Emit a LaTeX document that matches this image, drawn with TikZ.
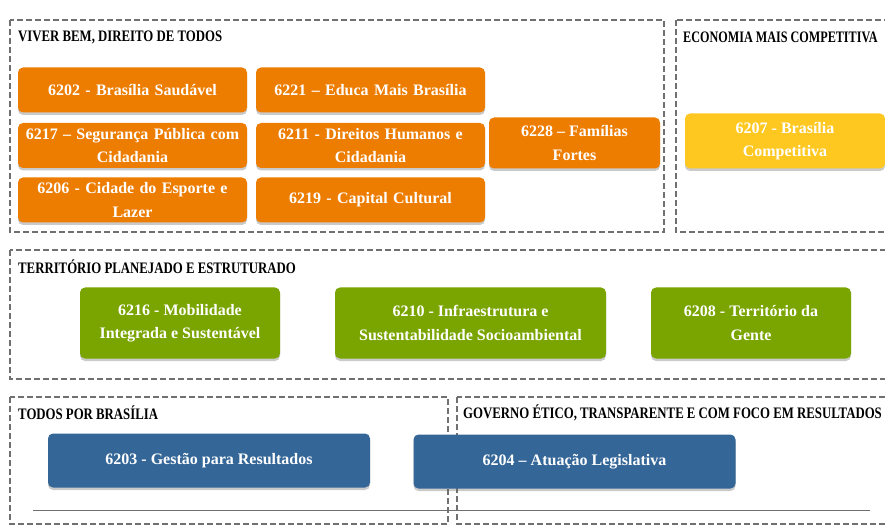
\documentclass[tikz,border=0pt]{standalone}
\usepackage{fontspec}
\setmainfont{Liberation Serif}
\newfontfamily\headfont[FakeStretch=0.8]{Liberation Serif}
\newfontfamily\narrowhead[FakeStretch=0.76]{Liberation Serif}
\usetikzlibrary{shadows}

\definecolor{progorange}{RGB}{237,125,0}
\definecolor{progyellow}{RGB}{255,200,32}
\definecolor{proggreen}{RGB}{122,165,0}
\definecolor{progblue}{RGB}{52,102,152}
\definecolor{framegray}{RGB}{112,112,112}

\tikzset{
  frame/.style={draw=framegray, line width=1.8pt, dash pattern=on 6pt off 3pt},
  head/.style={anchor=west, inner sep=0pt, font=\headfont\bfseries\fontsize{16}{18}\selectfont},
  prog/.style={rectangle, rounded corners=5pt, text=white, align=center, inner sep=0pt,
    font=\bfseries\fontsize{16}{23.5}\selectfont,
    drop shadow={shadow xshift=0pt, shadow yshift=-2.5pt, opacity=0.35, fill=black!60}},
  orangebox/.style={prog, fill=progorange, minimum width=229pt, minimum height=45pt, text width=222pt},
  greenbox/.style={prog, fill=proggreen, minimum height=71pt},
  bluebox/.style={prog, fill=progblue, minimum width=322pt, minimum height=54pt}
}

\begin{document}
\begin{tikzpicture}[x=1pt,y=-1pt]
\useasboundingbox (0,0) rectangle (885,526);

%frames
\draw[frame] (10,20) rectangle (664,232);
\draw[frame] (676,20) rectangle (895,232);
\draw[frame] (10,250) rectangle (895,379);
\draw[frame] (10,397) rectangle (448,524);
\draw[frame] (457,397) rectangle (895,524);
\draw[framegray, line width=0.8pt] (33,510) -- (870,510);

%frame titles
\node[head] (tviver) at (18,37) {VIVER BEM, DIREITO DE TODOS};
\node[head, font=\narrowhead\bfseries\fontsize{16}{18}\selectfont] (teco) at (683,37) {ECONOMIA MAIS COMPETITIVA};
\node[head] (tterr) at (18,267) {TERRITÓRIO PLANEJADO E ESTRUTURADO};
\node[head] (ttodos) at (18,413) {TODOS POR BRASÍLIA};
\node[head] (tgov) at (463,413) {GOVERNO ÉTICO, TRANSPARENTE E COM FOCO EM RESULTADOS};

%viver bem
\node[orangebox] (p6202) at (132.5,90) {6202 - Brasília Saudável};
\node[orangebox] (p6221) at (370.5,90) {6221 -- Educa Mais Brasília};
\node[orangebox] (p6217) at (132.5,145.5) {6217 -- Segurança Pública com\\Cidadania};
\node[orangebox] (p6211) at (370.5,145.5) {6211 - Direitos Humanos e\\Cidadania};
\node[orangebox] (p6206) at (132.5,200) {6206 - Cidade do Esporte e\\Lazer};
\node[orangebox] (p6219) at (370.5,200) {6219 - Capital Cultural};
\node[prog, fill=progorange, minimum width=171pt, minimum height=51pt] (p6228) at (574.5,143) {6228 -- Famílias\\Fortes};

%economia
\node[prog, fill=progyellow, minimum width=200pt, minimum height=55pt] (p6207) at (785,141) {6207 - Brasília\\Competitiva};

%territorio
\node[greenbox, minimum width=200pt] (p6216) at (180,323) {6216 - Mobilidade\\Integrada e Sustentável};
\node[greenbox, minimum width=271pt] (p6210) at (470.5,323) {6210 - Infraestrutura e\\Sustentabilidade Socioambiental};
\node[greenbox, minimum width=200pt] (p6208) at (751,323) {6208 - Território da\\Gente};

%todos / governo
\node[bluebox] (p6203) at (209,460.5) {6203 - Gestão para Resultados};
\node[bluebox] (p6204) at (574.5,461.5) {6204 -- Atuação Legislativa};

\end{tikzpicture}
\end{document}
